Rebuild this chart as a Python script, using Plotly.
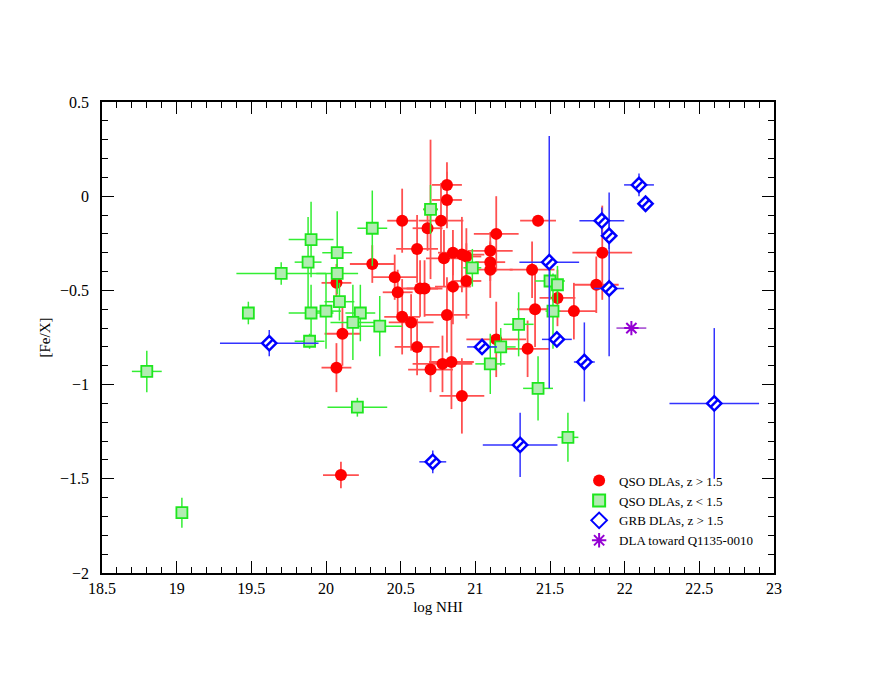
import plotly.graph_objects as go

# QSO DLAs, z > 1.5
red_x  = [20.07, 20.07, 20.11, 20.10, 20.31, 20.51, 20.46, 20.48, 20.51, 20.57, 20.61, 20.63, 20.66, 20.61,
          20.70, 20.78, 20.84, 20.68, 20.77, 20.81, 20.81, 20.79, 20.85, 20.91, 20.94, 20.85, 20.94, 20.81,
          20.91, 21.14, 21.10, 21.10, 21.10, 21.14, 21.35, 21.38, 21.40, 21.42, 21.55, 21.66, 21.85, 21.81, 20.70]
red_y  = [-0.46, -0.91, -0.73, -1.48, -0.36, -0.13, -0.43, -0.51, -0.64, -0.67, -0.28, -0.49, -0.49, -0.80,
          -0.92, -0.89, -0.88, -0.17, -0.13, -0.02, 0.06, -0.33, -0.30, -0.31, -0.32, -0.48, -0.45, -0.63,
          -1.06, -0.20, -0.29, -0.35, -0.39, -0.76, -0.81, -0.39, -0.60, -0.13, -0.54, -0.61, -0.30, -0.47, -0.07]
red_xe = [0.10, 0.10, 0.12, 0.12, 0.15, 0.10, 0.15, 0.10, 0.12, 0.15, 0.14, 0.12, 0.12, 0.15,
          0.15, 0.20, 0.15, 0.10, 0.15, 0.10, 0.10, 0.12, 0.10, 0.15, 0.10, 0.12, 0.10, 0.15,
          0.15, 0.15, 0.15, 0.10, 0.15, 0.20, 0.15, 0.15, 0.12, 0.12, 0.12, 0.15, 0.20, 0.15, 0.05]
red_ye = [0.10, 0.13, 0.17, 0.07, 0.10, 0.17, 0.12, 0.12, 0.20, 0.15, 0.18, 0.15, 0.15, 0.15,
          0.12, 0.15, 0.25, 0.12, 0.20, 0.15, 0.12, 0.15, 0.12, 0.20, 0.15, 0.20, 0.20, 0.20,
          0.20, 0.20, 0.10, 0.10, 0.15, 0.20, 0.15, 0.15, 0.20, 0.03, 0.15, 0.15, 0.25, 0.15, 0.37]

# QSO DLAs, z < 1.5
grn_x  = [18.80, 19.035, 19.48, 19.70, 19.90, 19.88, 19.90, 19.89, 20.00, 20.075, 20.075, 20.09, 20.23, 20.18,
          20.36, 20.31, 20.70, 20.21, 20.98, 21.17, 21.10, 21.29, 21.42, 21.50, 21.55, 21.52, 21.62]
grn_y  = [-0.93, -1.68, -0.62, -0.41, -0.23, -0.35, -0.62, -0.77, -0.61, -0.30, -0.41, -0.56, -0.62, -0.67,
          -0.69, -0.17, -0.07, -1.12, -0.38, -0.80, -0.89, -0.68, -1.02, -0.45, -0.47, -0.61, -1.28]
grn_xe = [0.10, 0.03, 0.03, 0.30, 0.15, 0.09, 0.15, 0.10, 0.10, 0.10, 0.14, 0.10, 0.10, 0.15,
          0.15, 0.10, 0.05, 0.20, 0.06, 0.10, 0.10, 0.10, 0.10, 0.10, 0.03, 0.05, 0.07]
grn_ye = [0.11, 0.08, 0.06, 0.06, 0.20, 0.24, 0.15, 0.04, 0.20, 0.22, 0.10, 0.10, 0.15, 0.20,
          0.16, 0.20, 0.13, 0.05, 0.10, 0.10, 0.16, 0.17, 0.17, 0.10, 0.10, 0.20, 0.13]

# GRB DLAs, z > 1.5
blu_x   = [19.62, 20.715, 21.30, 21.045, 21.495, 21.546, 21.73, 21.847, 21.896, 21.896, 22.096, 22.14, 22.60]
blu_y   = [-0.78, -1.41, -1.32, -0.80, -0.35, -0.76, -0.88, -0.13, -0.21, -0.49, 0.06, -0.04, -1.10]
blu_xe  = [0.33, 0.09, 0.25, 0.10, 0.20, 0.10, 0.07, 0.15, 0.05, 0.10, 0.10, 0.0, 0.30]
blu_yep = [0.07, 0.06, 0.17, 0.02, 0.67, 0.04, 0.21, 0.07, 0.07, 0.51, 0.06, 0.0, 0.40]
blu_yem = [0.07, 0.06, 0.17, 0.02, 0.67, 0.04, 0.21, 0.07, 0.07, 0.36, 0.06, 0.0, 0.40]

# DLA toward Q1135-0010
pur_x = [22.045]
pur_y = [-0.70]
pur_xe = [0.10]

SERIF = "Liberation Serif, Times New Roman, serif"

fig = go.Figure()

fig.add_trace(go.Scatter(
    x=red_x, y=red_y, mode="markers", name="QSO DLAs, z > 1.5",
    marker=dict(symbol="circle", size=12, color="#ff0000", line=dict(width=0)),
    error_x=dict(type="data", array=red_xe, color="#ff5050", thickness=1.8, width=0),
    error_y=dict(type="data", array=red_ye, color="#ff5050", thickness=1.8, width=0),
))

fig.add_trace(go.Scatter(
    x=grn_x, y=grn_y, mode="markers", name="QSO DLAs, z < 1.5",
    marker=dict(symbol="square", size=11, color="#b2ecb2", line=dict(width=1.8, color="#1ee61e")),
    error_x=dict(type="data", array=grn_xe, color="#33ee33", thickness=1.5, width=0),
    error_y=dict(type="data", array=grn_ye, color="#33ee33", thickness=1.5, width=0),
))

fig.add_trace(go.Scatter(
    x=blu_x, y=blu_y, mode="markers", name="GRB DLAs, z > 1.5",
    marker=dict(symbol="diamond", size=11, color="white", line=dict(width=2.5, color="#0000ff")),
    error_x=dict(type="data", array=blu_xe, color="#3333ff", thickness=1.5, width=0),
    error_y=dict(type="data", array=blu_yep, arrayminus=blu_yem, color="#3333ff", thickness=1.5, width=0),
))
fig.add_trace(go.Scatter(
    x=blu_x, y=blu_y, mode="markers", showlegend=False, hoverinfo="skip",
    marker=dict(symbol="line-ne", size=8, color="#0000ff", line=dict(width=2.5, color="#0000ff")),
))

fig.add_trace(go.Scatter(
    x=pur_x, y=pur_y, mode="markers", name="DLA toward Q1135-0010",
    marker=dict(symbol="asterisk", size=12, color="#9400d3", line=dict(width=2, color="#9400d3")),
    error_x=dict(type="data", array=pur_xe, color="#a040d0", thickness=1.5, width=0),
))

axis_common = dict(
    showgrid=False, zeroline=False, showline=True, linecolor="black", linewidth=1.5,
    mirror="allticks", ticks="inside", ticklen=12, tickwidth=1.2, tickcolor="black",
    tickfont=dict(family=SERIF, size=16, color="black"),
    minor=dict(ticks="inside", ticklen=6, tickwidth=1, tickcolor="black", dtick=0.1),
)

fig.update_xaxes(range=[18.5, 23], dtick=0.5, tick0=18.5,
                 title=dict(text="log NHI", font=dict(family=SERIF, size=15, color="black"), standoff=6),
                 **axis_common)
fig.update_yaxes(range=[-2, 0.5], dtick=0.5, tick0=-2, ticklabelstandoff=8,
                 title=dict(text="[Fe/X]", font=dict(family=SERIF, size=15, color="black"), standoff=6),
                 **axis_common)

fig.update_layout(
    width=871, height=673,
    margin=dict(l=94, r=105, t=94, b=108),
    paper_bgcolor="white", plot_bgcolor="white",
    showlegend=True,
    legend=dict(x=0.71, y=0.228, xanchor="left", yanchor="top",
                font=dict(family=SERIF, size=13, color="black"),
                bgcolor="rgba(0,0,0,0)", tracegroupgap=0, itemsizing="constant"),
)

fig.write_html("out.html")
